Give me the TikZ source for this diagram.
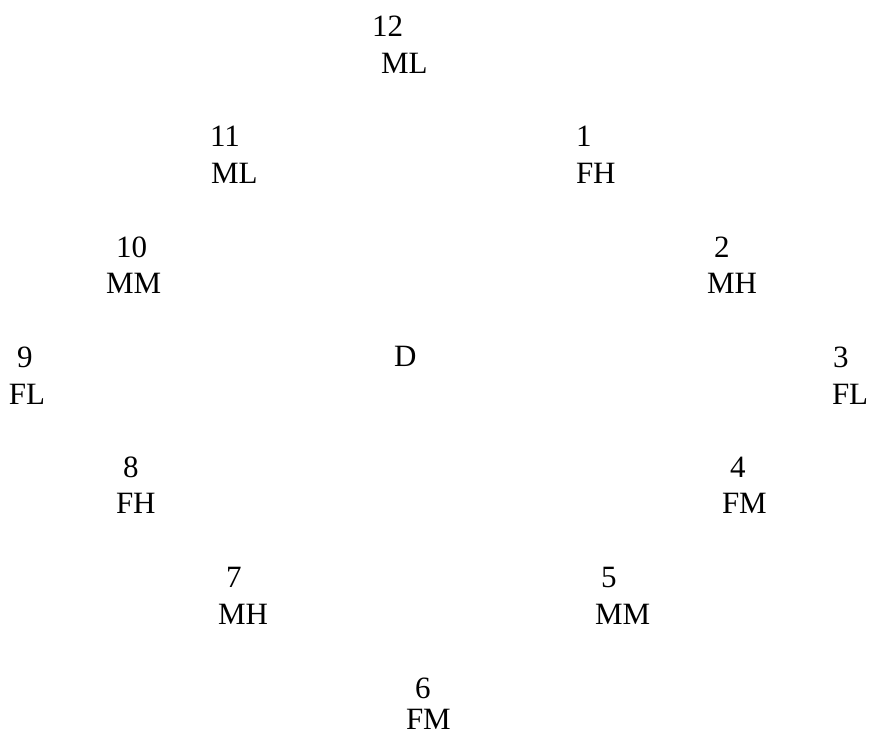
\documentclass[tikz,border=0pt]{standalone}
\usepackage{fontspec}
\setmainfont{Liberation Serif}
\begin{document}
\begin{tikzpicture}[x=1pt,y=-1pt,
  lbl/.style={anchor=base west,inner sep=0pt,outer sep=0pt,font=\fontsize{31}{37}\selectfont}]
\useasboundingbox (0,0) rectangle (871,736);
% 12
\node[lbl] (n12) at (372,36) {12};
\node[lbl] (c12) at (381,73) {ML};
% 11 / 1
\node[lbl] (n11) at (210,146) {11};
\node[lbl] (c11) at (211,183) {ML};
\node[lbl] (n1) at (576,146) {1};
\node[lbl] (c1) at (576,183) {FH};
% 10 / 2
\node[lbl] (n10) at (116,257) {10};
\node[lbl] (c10) at (106,293) {MM};
\node[lbl] (n2) at (714,257) {2};
\node[lbl] (c2) at (707,293) {MH};
% 9 / D / 3
\node[lbl] (n9) at (17,367) {9};
\node[lbl] (c9) at (9,404) {FL};
\node[lbl] (d) at (394,366) {D};
\node[lbl] (n3) at (833,367) {3};
\node[lbl] (c3) at (832,404) {FL};
% 8 / 4
\node[lbl] (n8) at (123,477) {8};
\node[lbl] (c8) at (116,513) {FH};
\node[lbl] (n4) at (730,477) {4};
\node[lbl] (c4) at (722,513) {FM};
% 7 / 5
\node[lbl] (n7) at (226,587) {7};
\node[lbl] (c7) at (218,624) {MH};
\node[lbl] (n5) at (601,587) {5};
\node[lbl] (c5) at (595,624) {MM};
% 6
\node[lbl] (n6) at (415,698) {6};
\node[lbl,text depth=0pt] (c6) at (406,729) {FM};
\end{tikzpicture}
\end{document}
